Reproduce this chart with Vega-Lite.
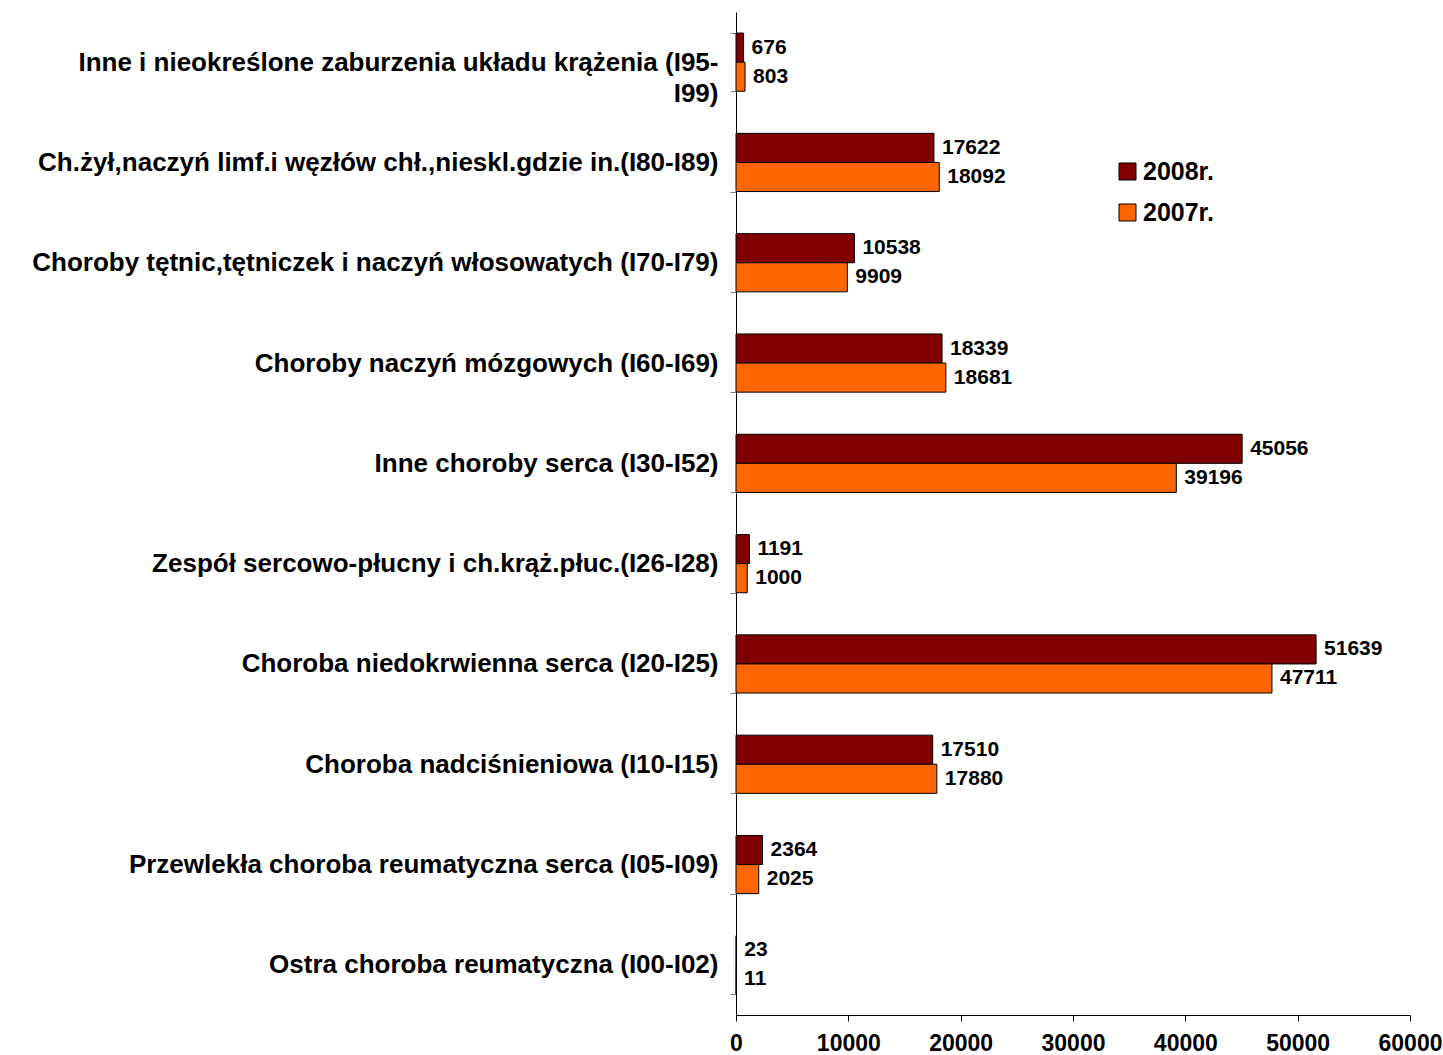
{
  "$schema": "https://vega.github.io/schema/vega-lite/v6.json",
  "width": 674,
  "height": 1003,
  "autosize": {"type": "none"},
  "padding": {"left": 736, "top": 12, "right": 33, "bottom": 40},
  "background": "white",
  "config": {
    "view": {"stroke": null},
    "font": "Liberation Sans"
  },
  "data": {
    "values": [
      {"cat": "Inne i nieokreślone zaburzenia układu krążenia (I95-I99)", "year": "2008r.", "value": 676},
      {"cat": "Inne i nieokreślone zaburzenia układu krążenia (I95-I99)", "year": "2007r.", "value": 803},
      {"cat": "Ch.żył,naczyń limf.i węzłów chł.,nieskl.gdzie in.(I80-I89)", "year": "2008r.", "value": 17622},
      {"cat": "Ch.żył,naczyń limf.i węzłów chł.,nieskl.gdzie in.(I80-I89)", "year": "2007r.", "value": 18092},
      {"cat": "Choroby tętnic,tętniczek i naczyń włosowatych (I70-I79)", "year": "2008r.", "value": 10538},
      {"cat": "Choroby tętnic,tętniczek i naczyń włosowatych (I70-I79)", "year": "2007r.", "value": 9909},
      {"cat": "Choroby naczyń mózgowych (I60-I69)", "year": "2008r.", "value": 18339},
      {"cat": "Choroby naczyń mózgowych (I60-I69)", "year": "2007r.", "value": 18681},
      {"cat": "Inne choroby serca (I30-I52)", "year": "2008r.", "value": 45056},
      {"cat": "Inne choroby serca (I30-I52)", "year": "2007r.", "value": 39196},
      {"cat": "Zespół sercowo-płucny i ch.krąż.płuc.(I26-I28)", "year": "2008r.", "value": 1191},
      {"cat": "Zespół sercowo-płucny i ch.krąż.płuc.(I26-I28)", "year": "2007r.", "value": 1000},
      {"cat": "Choroba niedokrwienna serca (I20-I25)", "year": "2008r.", "value": 51639},
      {"cat": "Choroba niedokrwienna serca (I20-I25)", "year": "2007r.", "value": 47711},
      {"cat": "Choroba nadciśnieniowa (I10-I15)", "year": "2008r.", "value": 17510},
      {"cat": "Choroba nadciśnieniowa (I10-I15)", "year": "2007r.", "value": 17880},
      {"cat": "Przewlekła choroba reumatyczna serca (I05-I09)", "year": "2008r.", "value": 2364},
      {"cat": "Przewlekła choroba reumatyczna serca (I05-I09)", "year": "2007r.", "value": 2025},
      {"cat": "Ostra choroba reumatyczna (I00-I02)", "year": "2008r.", "value": 23},
      {"cat": "Ostra choroba reumatyczna (I00-I02)", "year": "2007r.", "value": 11}
    ]
  },
  "encoding": {
    "y": {
      "field": "cat",
      "type": "nominal",
      "sort": null,
      "title": null,
      "scale": {"paddingInner": 0.42, "paddingOuter": 0.21},
      "axis": {
        "domainColor": "black",
        "tickColor": "#808080",
        "tickSize": 6,
        "tickBand": "extent",
        "labelFont": "Liberation Sans",
        "labelFontWeight": "bold",
        "labelFontSize": 26,
        "labelColor": "black",
        "labelPadding": 12,
        "labelLimit": 0,
        "labelLineHeight": 31,
        "labelExpr": "datum.value == 'Inne i nieokreślone zaburzenia układu krążenia (I95-I99)' ? ['Inne i nieokreślone zaburzenia układu krążenia (I95-', 'I99)'] : datum.label"
      }
    },
    "yOffset": {"field": "year", "type": "nominal", "sort": ["2008r.", "2007r."]},
    "x": {
      "field": "value",
      "type": "quantitative",
      "title": null,
      "scale": {"domain": [0, 60000], "nice": false},
      "axis": {
        "values": [0, 10000, 20000, 30000, 40000, 50000, 60000],
        "format": "d",
        "grid": false,
        "domainColor": "black",
        "tickColor": "black",
        "tickSize": 6,
        "labelFlush": false,
        "labelOverlap": false,
        "labelFont": "Liberation Sans",
        "labelFontWeight": "bold",
        "labelFontSize": 23,
        "labelColor": "black",
        "labelPadding": 11
      }
    }
  },
  "layer": [
    {
      "mark": {"type": "bar", "stroke": "black", "strokeWidth": 1},
      "encoding": {
        "color": {
          "field": "year",
          "type": "nominal",
          "scale": {"domain": ["2008r.", "2007r."], "range": ["#800000", "#FF6600"]},
          "legend": {
            "title": null,
            "orient": "none",
            "legendX": 379,
            "legendY": 147,
            "symbolType": "square",
            "symbolSize": 289,
            "symbolStrokeColor": "black",
            "symbolStrokeWidth": 1,
            "labelFont": "Liberation Sans",
            "labelFontWeight": "bold",
            "labelFontSize": 25,
            "labelColor": "black",
            "labelOffset": 3,
            "rowPadding": 15
          }
        }
      }
    },
    {
      "mark": {"type": "text", "align": "left", "baseline": "middle", "dx": 8, "font": "Liberation Sans", "fontWeight": "bold", "fontSize": 21, "color": "black"},
      "encoding": {
        "text": {"field": "value", "type": "quantitative", "format": "d"}
      }
    }
  ]
}
